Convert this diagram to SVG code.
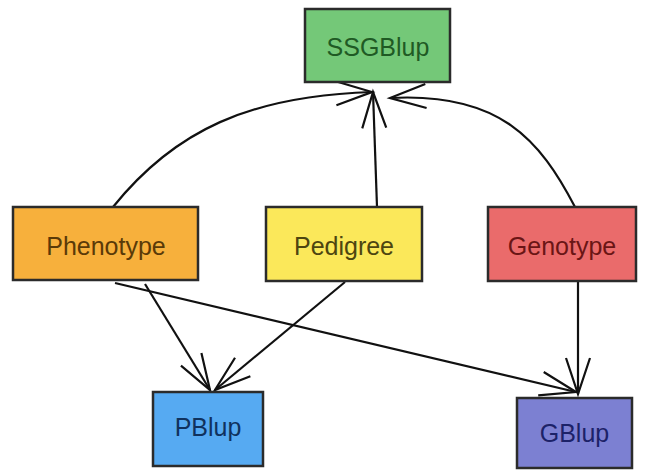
<svg xmlns="http://www.w3.org/2000/svg" width="651" height="470" viewBox="0 0 651 470">
<style>
.box{stroke:#2b2b2b;stroke-width:2.5}
.lbl{font-family:"Liberation Sans",Arial,sans-serif;font-size:25px;text-anchor:middle;dominant-baseline:central}
.edge{fill:none;stroke:#111;stroke-width:2.2;marker-end:url(#arr)}
</style>
<defs>
<marker id="arr" markerUnits="userSpaceOnUse" markerWidth="60" markerHeight="40" viewBox="-40 -20 60 40" refX="0" refY="0" orient="auto">
<path d="M-36,-12 L0,0 L-36,12" fill="none" stroke="#111" stroke-width="2.2"/>
</marker>
</defs>
<rect width="651" height="470" fill="#fff"/>
<g id="edges">
<path class="edge" d="M113,207 C175,130 250,96 372,92"/>
<path class="edge" d="M377,207 L373,92"/>
<path class="edge" d="M575,207 C540,140 500,92 390,98"/>
<path class="edge" d="M145,284 L210,390"/>
<path class="edge" d="M345,282 L215,390"/>
<path class="edge" d="M115,283 L576,392"/>
<path class="edge" d="M578,282 L578,394"/>
</g>
<g id="SSGBlup">
<rect class="box" x="305" y="9" width="145" height="73" fill="#74c878"/>
<text class="lbl" x="378" y="47" fill="#1f5a24">SSGBlup</text>
</g>
<g id="Phenotype">
<rect class="box" x="13" y="207" width="185" height="73" fill="#f7b03c"/>
<text class="lbl" x="106" y="246" fill="#5a3a08">Phenotype</text>
</g>
<g id="Pedigree">
<rect class="box" x="266" y="207" width="156" height="74" fill="#fbe85a"/>
<text class="lbl" x="344" y="246" fill="#4d4510">Pedigree</text>
</g>
<g id="Genotype">
<rect class="box" x="488" y="207" width="148" height="74" fill="#ea6b6b"/>
<text class="lbl" x="562" y="246" fill="#6a1515">Genotype</text>
</g>
<g id="PBlup">
<rect class="box" x="153" y="392" width="110" height="74" fill="#56aaf2"/>
<text class="lbl" x="208" y="427" fill="#10325e">PBlup</text>
</g>
<g id="GBlup">
<rect class="box" x="517" y="398" width="115" height="70" fill="#7c80d2"/>
<text class="lbl" x="574.5" y="433" fill="#1c2268">GBlup</text>
</g>
</svg>
